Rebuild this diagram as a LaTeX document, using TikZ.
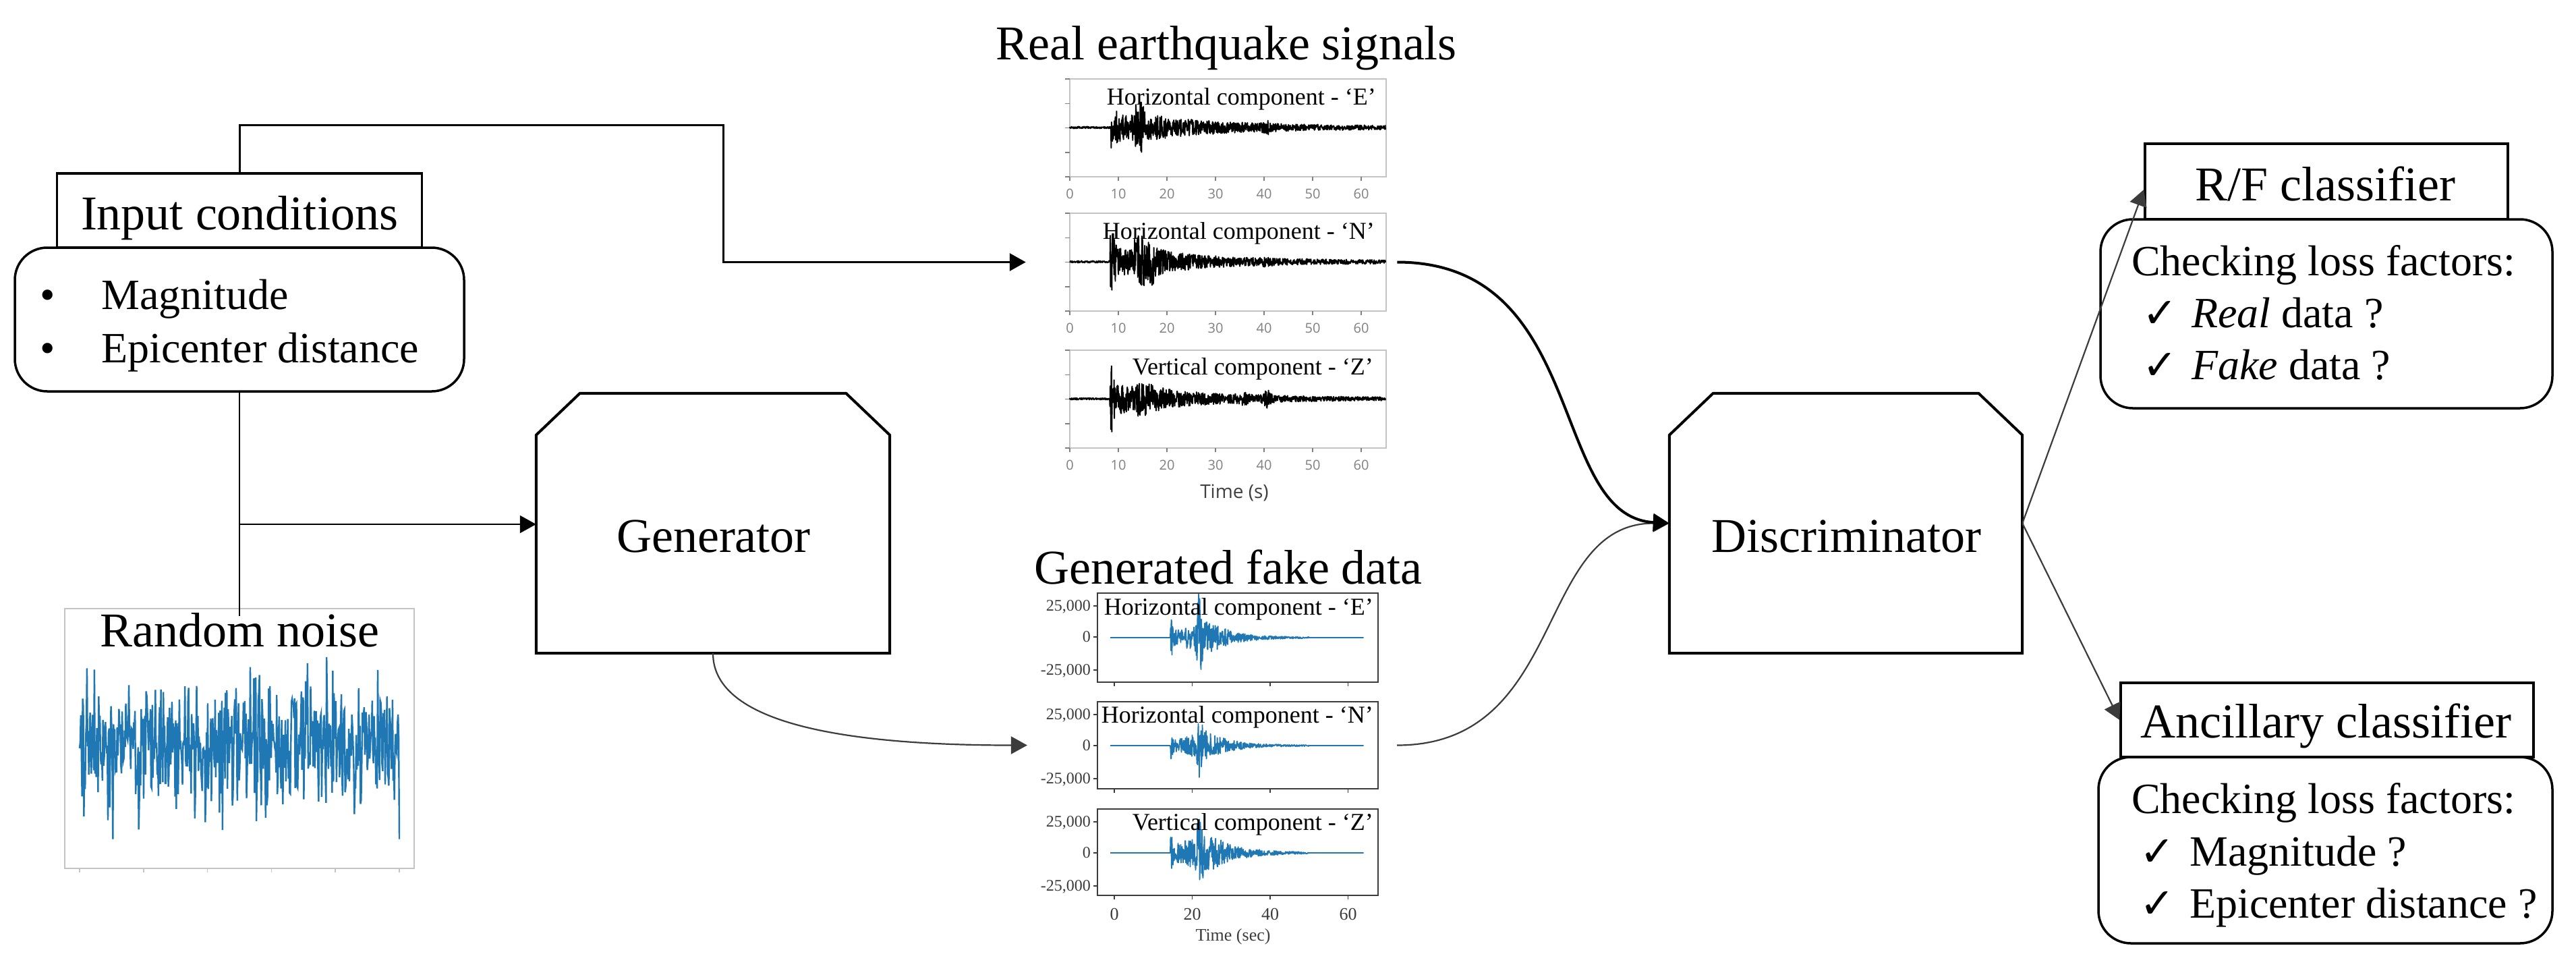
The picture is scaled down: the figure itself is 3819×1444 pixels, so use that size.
\documentclass[tikz,border=0pt]{standalone}
\usepackage{fontspec}
\setmainfont{Liberation Serif}
\newfontfamily\dejavu{DejaVu Sans}
\newfontfamily\opensans{Open Sans}
\usetikzlibrary{arrows.meta,calc}
\definecolor{mplblue}{HTML}{1F77B4}
\definecolor{framegray}{HTML}{C4C4C4}
\definecolor{tickgray}{HTML}{808080}
\definecolor{linegray}{HTML}{3C3C3C}
\newcommand\fsz[1]{\fontsize{#1}{#1}\selectfont}
\tikzset{
  boxline/.style={draw=black, line width=4pt, line join=miter},
  hdrbox/.style={draw=black, line width=3.5pt, inner sep=0pt},
  listbox/.style={draw=black, line width=3.5pt, rounded corners=48pt, inner sep=0pt},
  bigtxt/.style={inner sep=0pt, anchor=base, font=\fsz{72}},
  listtxt/.style={inner sep=0pt, anchor=base west, font=\fsz{64}},
  chk/.style={inner sep=0pt, anchor=base west, font=\dejavu\fsz{62}},
  conn/.style={draw=black, line width=3pt},
  thinconn/.style={draw=linegray, line width=2.2pt},
  endarrow/.style={-{Triangle[length=24pt,width=26pt]}},
  realframe/.style={draw=framegray, line width=2.5pt, inner sep=0pt},
  fakeframe/.style={draw=linegray, line width=2.2pt, inner sep=0pt},
  plotlbl/.style={inner sep=0pt, anchor=base east, font=\fsz{36}},
  realtick/.style={inner sep=0pt, anchor=base, font=\opensans\fsz{20}, text=tickgray},
  faketick/.style={inner sep=0pt, font=\fsz{24}, text=linegray},
  realwave/.style={draw=black, line width=1.9pt, line join=round},
  fakewave/.style={draw=mplblue, line width=1.8pt, line join=round},
}
\newcommand\realaxes[1]{%
  \foreach \k in {0,1,2,3,4} {\draw[tickgray,line width=1.5pt] (1579,{#1+36.25*\k}) -- (1586,{#1+36.25*\k});}
  \foreach \tval in {0,10,20,30,40,50,60} {\draw[tickgray,line width=1.5pt] ({1586+7.2*\tval},{#1+145}) -- ({1586+7.2*\tval},{#1+151});
    \node[realtick] at ({1586+7.2*\tval},{#1+177}) {\tval};}
}
\newcommand\fakeaxes[2]{%
  \node[faketick,anchor=base east] at (1617,{#1+26}) {25,000};
  \node[faketick,anchor=base east] at (1617,{#1+72}) {0};
  \node[faketick,anchor=base east] at (1617,{#1+121}) {-25,000};
  \foreach \dy in {19,65,114} {\draw[linegray,line width=1.5pt] (1621,{#1+\dy}) -- (1627,{#1+\dy});}
  \foreach \tval in {0,20,40,60} {\draw[linegray,line width=1.5pt] ({1652+5.775*\tval},{#1+#2}) -- ++(0,6);}
}
\newcommand\chambox[1]{\draw[boxline] (#1.south west) -- ($(#1.north west)+(0,62)$) -- ($(#1.north west)+(65,0)$) -- ($(#1.north east)+(-65,0)$) -- ($(#1.north east)+(0,62)$) -- (#1.south east) -- cycle;}
\begin{document}
\begin{tikzpicture}[x=1pt,y=-1pt,
  declare function={
    lor(\ta,\ca,\wa)=\wa*\wa/(\wa*\wa+(\ta-\ca)*(\ta-\ca));
    envE(\ta)=1.5+(\ta>8.4)*(16*lor(\ta,8.8,0.8)+(\ta>13.4)*22*lor(\ta,14.3,1.3)+18*lor(\ta,8.5,19))+8*lor(\ta,40.6,0.5);
    envN(\ta)=1.5+(\ta>8.3)*(26*lor(\ta,8.7,0.7)+(\ta>13.3)*22*lor(\ta,14.6,1.8)+16*lor(\ta,17,0.3)+18*lor(\ta,8.5,17))+4*lor(\ta,40.5,0.6);
    envZ(\ta)=1.5+(\ta>8.2)*(46*lor(\ta,8.5,0.35)+20*lor(\ta,8.5,15)+(\ta>13.5)*8*lor(\ta,15,2))+11*lor(\ta,40.6,0.5)+5*lor(\ta,36,0.8);
    envFE(\ta)=(\ta>14.4)*(\ta<50)*(26*lor(\ta,14.6,0.3)+24*lor(\ta,23,6))+(\ta>20.8)*(\ta<24)*48*lor(\ta,21.8,0.5);
    envFN(\ta)=(\ta>14.4)*(\ta<50)*(17*lor(\ta,14.6,0.3)+20*lor(\ta,23,6))+(\ta>20.8)*(\ta<24)*50*lor(\ta,21.8,0.45);
    envFZ(\ta)=(\ta>14.4)*(\ta<50)*(30*lor(\ta,14.6,0.3)+28*lor(\ta,23,6.5))+(\ta>20.8)*(\ta<24)*42*lor(\ta,21.9,0.5);
  }]
\pgfmathsetseed{4242}
\useasboundingbox (0,0) rectangle (3819,1444);
\fill[white] (0,0) rectangle (3819,1444);

% ---------- Input conditions ----------
\node[hdrbox, minimum width=541pt, minimum height=110pt] (inhdr) at (355,312) {};
\node[listbox, minimum width=666pt, minimum height=213pt] (inbox) at (355,473.5) {};
\node[bigtxt] (inhdrtxt) at (355,340) {Input conditions};
\node[inner sep=0pt, anchor=base, font=\fsz{64}] (b1) at (71,458) {•};
\node[inner sep=0pt, anchor=base, font=\fsz{64}] (b2) at (71,537) {•};
\node[listtxt] (mag) at (150,458) {Magnitude};
\node[listtxt] (epi) at (150,537) {Epicenter distance};

% ---------- Random noise ----------
\node[draw=framegray, line width=2.5pt, minimum width=518pt, minimum height=385pt, inner sep=0pt] (noise) at (355,1094.5) {};
\foreach \k in {0,...,5} {\draw[framegray,line width=1.5pt] ({118+94.8*\k},1287) -- ++(0,6);}
\draw[mplblue, line width=2.4pt] plot[domain=118:592, samples=520] (\x,{1103+44*(rand+rand+rand+rand)});
\node[bigtxt] (noisetxt) at (355,958) {Random noise};

% ---------- Generator / Discriminator ----------
\node[minimum width=524pt, minimum height=385pt, inner sep=0pt] (gen) at (1057,775.5) {};
\chambox{gen}
\node[bigtxt] (gentxt) at (1058,818) {Generator};
\node[minimum width=523pt, minimum height=385pt, inner sep=0pt] (disc) at (2736.5,775.5) {};
\chambox{disc}
\node[bigtxt] (disctxt) at (2737,818) {Discriminator};

% ---------- Real earthquake signals ----------
\node[bigtxt] (realtitle) at (1818,88) {Real earthquake signals};
\node[realframe, minimum width=469pt, minimum height=145pt] (realE) at (1820.5,189.5) {};
\node[realframe, minimum width=469pt, minimum height=145pt] (realN) at (1820.5,388.5) {};
\node[realframe, minimum width=469pt, minimum height=145pt] (realZ) at (1820.5,591.5) {};
\realaxes{117}
\realaxes{316}
\realaxes{519}
\draw[realwave] plot[domain=0:65, samples=1000] ({1586+7.2*\x},{189+envE(\x)*rand});
\draw[realwave] plot[domain=0:65, samples=1000] ({1586+7.2*\x},{388+envN(\x)*rand});
\draw[realwave] plot[domain=0:65, samples=1000] ({1586+7.2*\x},{591+envZ(\x)*rand});
\node[plotlbl] (lblRE) at (2040,155) {Horizontal component - ‘E’};
\node[plotlbl] (lblRN) at (2038,354) {Horizontal component - ‘N’};
\node[plotlbl] (lblRZ) at (2036,555) {Vertical component - ‘Z’};
\node[inner sep=0pt, anchor=base, font=\opensans\fsz{28}, text=black!75] (realtime) at (1830,738) {Time (s)};

% ---------- Generated fake data ----------
\node[bigtxt] (faketitle) at (1821,865) {Generated fake data};
\node[fakeframe, minimum width=416pt, minimum height=132pt] (fakeE) at (1835,945) {};
\node[fakeframe, minimum width=416pt, minimum height=129pt] (fakeN) at (1835,1104.5) {};
\node[fakeframe, minimum width=416pt, minimum height=128pt] (fakeZ) at (1835,1263) {};
\fakeaxes{879}{132}
\fakeaxes{1040}{129}
\fakeaxes{1199}{128}
\draw[fakewave] plot[domain=-1:64, samples=750] ({1652+5.775*\x},{945+envFE(\x)*rand});
\draw[fakewave] plot[domain=-1:64, samples=750] ({1652+5.775*\x},{1105+envFN(\x)*rand});
\draw[fakewave] plot[domain=-1:64, samples=750] ({1652+5.775*\x},{1264+envFZ(\x)*rand});
\node[plotlbl] (lblFE) at (2036,911) {Horizontal component - ‘E’};
\node[plotlbl] (lblFN) at (2036,1071) {Horizontal component - ‘N’};
\node[plotlbl] (lblFZ) at (2036,1230) {Vertical component - ‘Z’};
\foreach \tval in {0,20,40,60} {\node[faketick, anchor=base, font=\fsz{26}] at ({1652+5.775*\tval},1363) {\tval};}
\node[faketick, anchor=base, font=\fsz{26}] (faketime) at (1828,1394) {Time (sec)};

% ---------- Classifiers ----------
\node[hdrbox, minimum width=538pt, minimum height=112pt] (rfhdr) at (3449,269) {};
\node[listbox, minimum width=670pt, minimum height=280pt] (rfbox) at (3449,465) {};
\node[bigtxt] (rftxt) at (3447,297) {R/F classifier};
\node[listtxt] (rf0) at (3160,408) {Checking loss factors:};
\node[chk] (rfc1) at (3176,485) {✓};
\node[listtxt] (rf1) at (3249,485) {\textit{Real} data ?};
\node[chk] (rfc2) at (3176,562) {✓};
\node[listtxt] (rf2) at (3249,562) {\textit{Fake} data ?};

\node[hdrbox, minimum width=612pt, minimum height=110pt] (anhdr) at (3450,1067) {};
\node[listbox, minimum width=673pt, minimum height=276pt] (anbox) at (3447.5,1260) {};
\node[bigtxt] (antxt) at (3448,1093) {Ancillary classifier};
\node[listtxt] (an0) at (3160,1205) {Checking loss factors:};
\node[chk] (anc1) at (3172,1283) {✓};
\node[listtxt] (an1) at (3246,1283) {Magnitude ?};
\node[chk] (anc2) at (3172,1360) {✓};
\node[listtxt] (an2) at (3246,1360) {Epicenter distance ?};

% ---------- Connectors ----------
\coordinate (bend1) at (1072,185);
\draw[conn, endarrow, shorten >=64pt] (inhdr.north) |- (bend1) |- (realN.west);
\coordinate (ntop) at (355,913);
\coordinate (br) at (355,777);
\draw[thinconn, draw=black] (inbox.south) -- (ntop);
\draw[thinconn, draw=black, endarrow] (br) -- (br -| gen.west);
\draw[thinconn, endarrow, shorten >=103pt] (gen.south) .. controls +(0,110) and +(-350,0) .. (fakeN.west);
\draw[thinconn, endarrow, shorten <=27pt] (fakeN.east) .. controls +(280,0) and +(-200,0) .. (disc.west);
\draw[draw=black, line width=4pt, endarrow, shorten <=15pt] (realN.east) .. controls +(300,0) and +(-180,-10) .. (disc.west);
\draw[thinconn, endarrow] (disc.east) -- ([yshift=-12pt]rfhdr.west);
\draw[thinconn, endarrow] (disc.east) -- (anhdr.west);
\end{tikzpicture}
\end{document}
